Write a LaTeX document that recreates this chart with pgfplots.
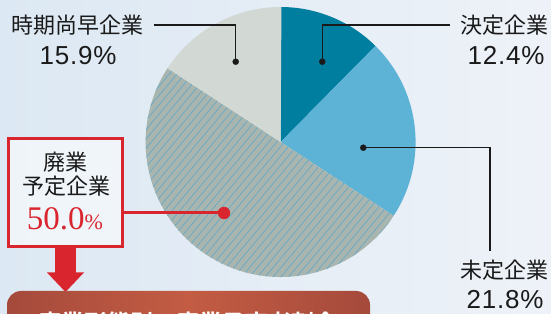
\documentclass[border=0pt]{standalone}
\usepackage{pgfplots}
\pgfplotsset{compat=1.18}
\usepackage{fontspec}
\usetikzlibrary{patterns.meta}
\newfontfamily\jp{Noto Sans CJK JP}
\newfontfamily\jpb{Noto Sans CJK JP Bold}
\newfontfamily\num[LetterSpace=3]{Liberation Sans}
\newfontfamily\ser{Liberation Serif}
\definecolor{bgA}{HTML}{DCE8F3}
\definecolor{bgB}{HTML}{EEF2F8}
\definecolor{cDec}{HTML}{007E9F}
\definecolor{cUnd}{HTML}{5CB3D6}
\definecolor{cClose}{HTML}{A9B6B0}
\definecolor{cHatch}{HTML}{6AA9C6}
\definecolor{cEarly}{HTML}{D2D9D5}
\definecolor{cRed}{HTML}{D9262E}
\definecolor{cTxt}{HTML}{1A1A1A}
\definecolor{bnA}{HTML}{A54A3C}
\definecolor{bnB}{HTML}{C35C43}
% shares (percent), clockwise from 12 o'clock
\def\vDec{12.4}
\def\vUnd{21.8}
\def\vClose{50.0}
\def\vEarly{15.9}
\pgfmathsetmacro\aA{90}
\pgfmathsetmacro\aB{\aA-3.6*\vDec}
\pgfmathsetmacro\aC{\aB-3.6*\vUnd}
\pgfmathsetmacro\aD{\aC-3.6*\vClose}
\pgfmathsetmacro\aE{\aD-3.6*\vEarly}
\begin{document}
\begin{tikzpicture}
\useasboundingbox (0,0) rectangle (551pt,313pt);
\shade[left color=bgA, right color=bgB] (0,0) rectangle (551pt,313pt);
\begin{axis}[x=1pt,y=1pt,xmin=0,xmax=551,ymin=0,ymax=313,
  hide axis, clip=false, anchor=origin, at={(0,0)}]
% pie
\fill[cDec] (280.6,171) -- ++(\aA:135pt) arc[start angle=\aA, end angle=\aB, radius=135pt] -- cycle;
\fill[cUnd] (280.6,171) -- ++(\aB:135pt) arc[start angle=\aB, end angle=\aC, radius=135pt] -- cycle;
\fill[cClose, postaction={pattern={Lines[angle=50, distance=6pt, line width=0.75pt]}, pattern color=cHatch}]
  (280.6,171) -- ++(\aC:135pt) arc[start angle=\aC, end angle=\aD, radius=135pt] -- cycle;
\fill[cEarly] (280.6,171) -- ++(\aD:135pt) arc[start angle=\aD, end angle=\aE, radius=135pt] -- cycle;
% leader lines
\addplot[no marks, cTxt, line width=1.2pt] coordinates {(154,288) (235.7,288) (235.7,251.3)};
\addplot[no marks, cTxt, line width=1.2pt] coordinates {(322.3,251.3) (322.3,288) (450,288)};
\addplot[no marks, cTxt, line width=1.2pt] coordinates {(363.3,165.3) (490,165.3) (490,62.3)};
\addplot[only marks, mark=*, mark size=3pt, cTxt] coordinates {(235.7,251.3) (322.3,251.3) (363.3,165.3)};
% labels
\node[cTxt, font=\jp\fontsize{22pt}{24pt}\selectfont] at (77,288) {時期尚早企業};
\node[cTxt, font=\num\fontsize{26pt}{28pt}\selectfont] at (78,257) {15.9\%};
\node[cTxt, font=\jp\fontsize{22pt}{24pt}\selectfont] at (504,288) {決定企業};
\node[cTxt, font=\num\fontsize{26pt}{28pt}\selectfont] at (506,257) {12.4\%};
\node[cTxt, font=\jp\fontsize{22pt}{24pt}\selectfont] at (504,43) {未定企業};
\node[cTxt, font=\num\fontsize{26pt}{28pt}\selectfont] at (505,13) {21.8\%};
% box for closing companies
\fill[white, opacity=0.55] (8.5,66.5) rectangle (122.5,174.5);
\draw[cRed, line width=3pt] (8.5,66.5) rectangle (122.5,174.5);
\node[cTxt, font=\jp\fontsize{22pt}{24pt}\selectfont] at (65,151) {廃業};
\node[cTxt, font=\jp\fontsize{22pt}{24pt}\selectfont] at (66,127) {予定企業};
\node[cRed, inner sep=0pt] at (65,94) {\ser\fontsize{33pt}{35pt}\selectfont 50.0\fontsize{22pt}{24pt}\selectfont\%};
\addplot[no marks, cRed, line width=3pt] coordinates {(124,100) (224,100)};
\addplot[only marks, mark=*, mark size=6pt, cRed] coordinates {(224,100)};
% arrow
\fill[cRed] (55,66) rectangle (76,40);
\fill[cRed] (47,40.5) -- (84,40.5) -- (65.5,21) -- cycle;
% banner (cut by the lower edge)
\begin{scope}
\clip (0,0) rectangle (551,313);
\shade[left color=bnA, right color=bnA, middle color=bnB, rounded corners=14pt] (7,-30) rectangle (370,22);
\node[white, anchor=base west, inner sep=0pt, font=\jpb\fontsize{23pt}{25pt}\selectfont] at (38,-18.2) {廃業形態別の廃業予定者割合};
\end{scope}
\end{axis}
\end{tikzpicture}
\end{document}
